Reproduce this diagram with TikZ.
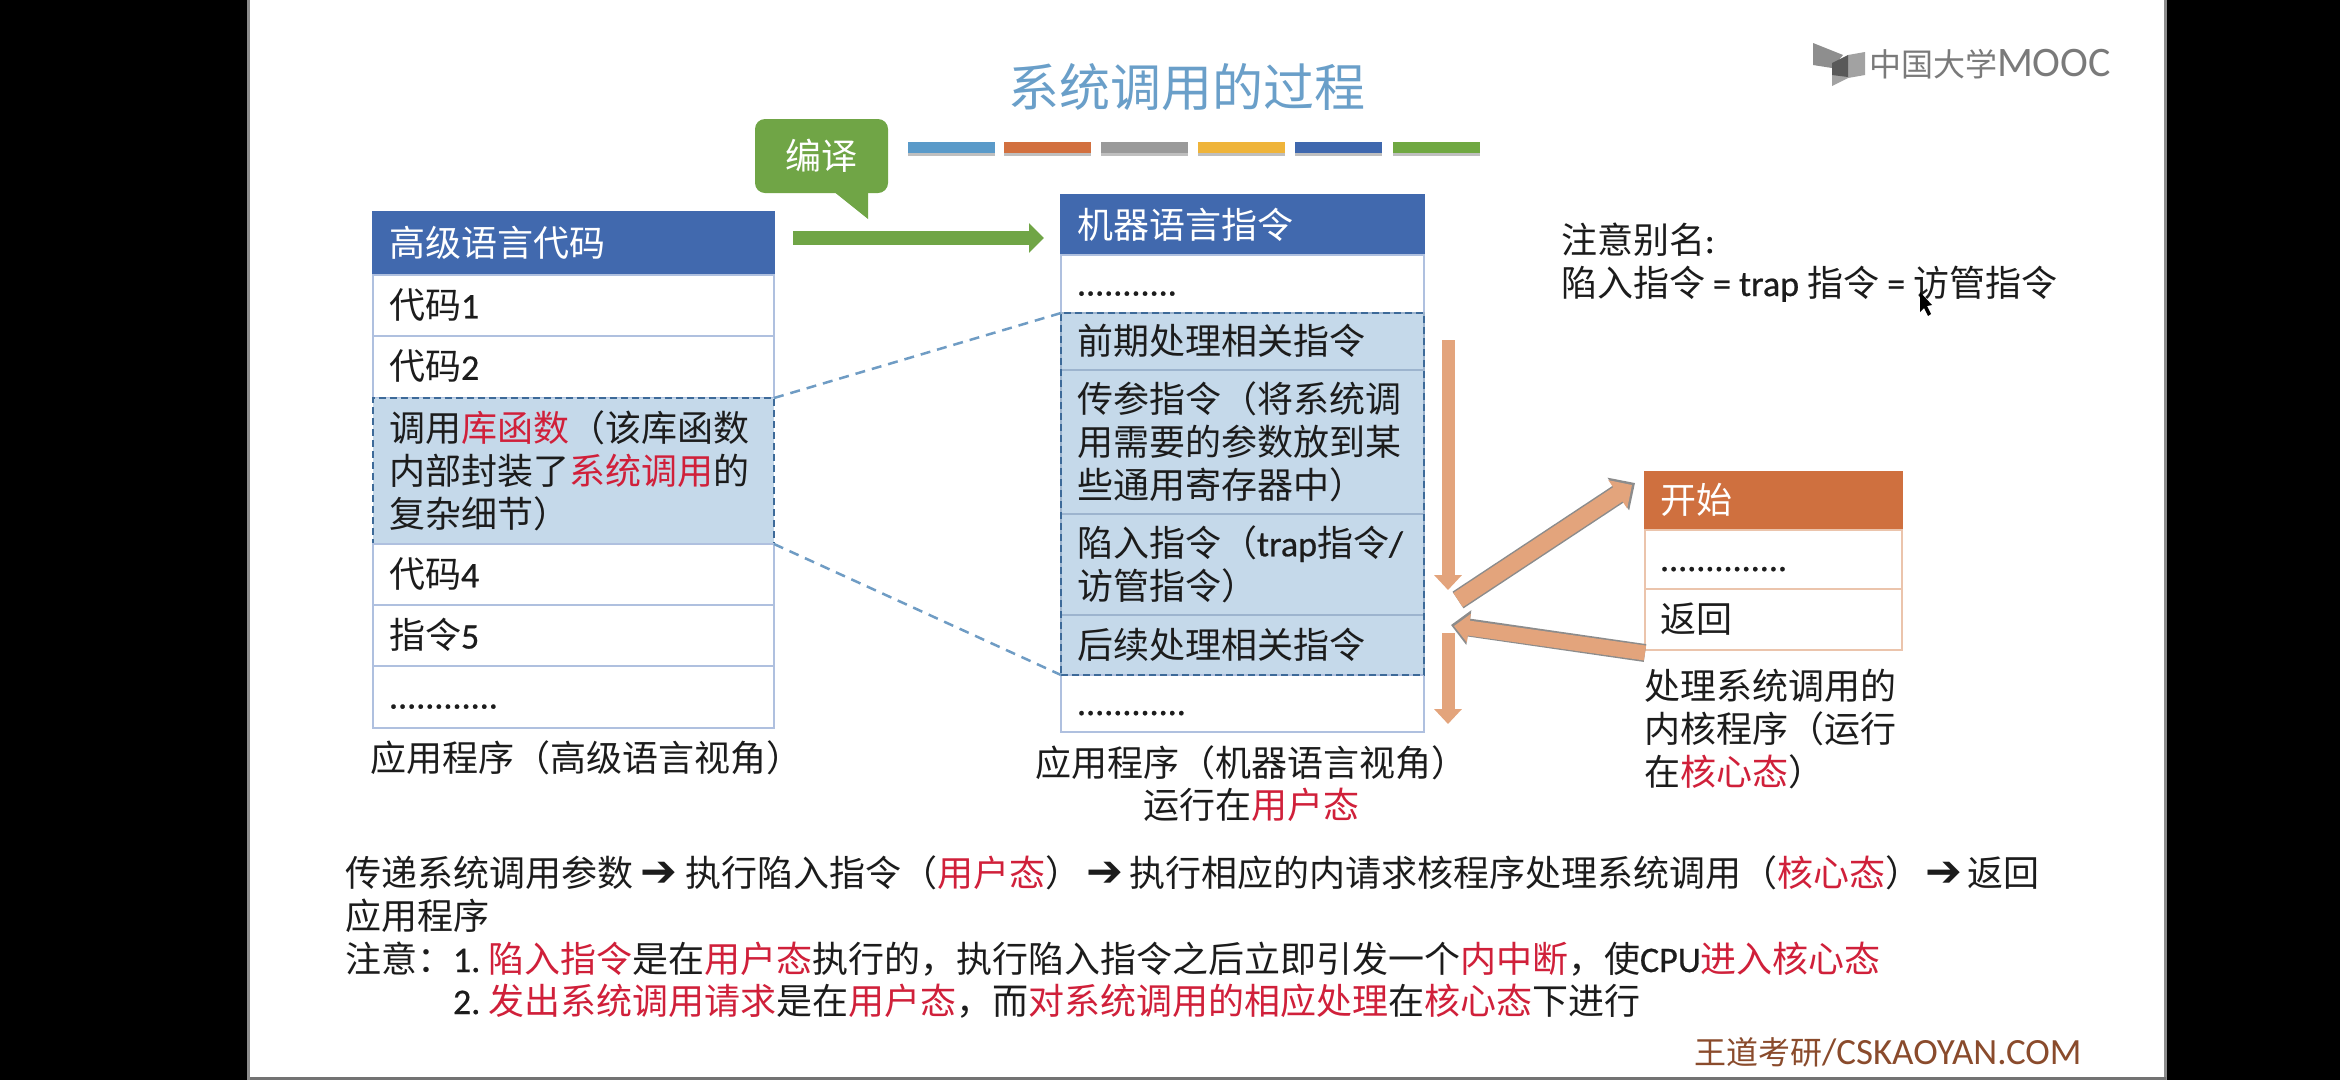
\documentclass[tikz,border=0pt]{standalone}
\usepackage{fontspec}
\usetikzlibrary{arrows.meta,fit,calc}
\setmainfont{Noto Sans CJK SC}
\newfontfamily\lat[FakeBold=0.6]{Carlito}
\newfontfamily\latl{Carlito}
\newfontfamily\djv{DejaVu Sans}
\definecolor{ink}{HTML}{1C1C1C}
\definecolor{redtxt}{HTML}{D0203A}
\definecolor{hdrblue}{HTML}{4169AE}
\definecolor{cellline}{HTML}{AFC0DF}
\definecolor{hlfill}{HTML}{C5D9EA}
\definecolor{hlline}{HTML}{3D6A99}
\definecolor{hlsep}{HTML}{9DB4CE}
\definecolor{dashln}{HTML}{6F9CC4}
\definecolor{titleblue}{HTML}{6A9FC9}
\definecolor{hdrorange}{HTML}{CF703F}
\definecolor{orline}{HTML}{EBC4AC}
\definecolor{arrowc}{HTML}{E3A47C}
\definecolor{arrowedge}{HTML}{8C8C8C}
\definecolor{green1}{HTML}{70A546}
\definecolor{wmark}{HTML}{8A4B2C}
\definecolor{logogray}{HTML}{7A7A7A}
\newcommand{\Rd}[1]{\textcolor{redtxt}{#1}}
\newcommand{\stt}{\rule[-0.12em]{0pt}{0.88em}}
\newcommand{\arw}{{\djv\fontsize{44}{44}\selectfont ➔}}
\tikzset{
  x=1pt,y=-1pt,
  every node/.style={font=\fontsize{36}{43}\selectfont,text=ink,inner sep=0pt,outer sep=0pt},
  cell/.style={draw=cellline,line width=1.5pt,fill=white,anchor=north west,align=left,inner xsep=16pt,inner ysep=0pt},
  leftcell/.style={cell,text width=369pt},
  midcell/.style={cell,text width=331pt},
  rightcell/.style={cell,text width=227pt,inner xsep=15pt,draw=orline},
  hdrleft/.style={leftcell,fill=hdrblue,draw=hdrblue,text=white},
  hdrmid/.style={midcell,fill=hdrblue,draw=hdrblue,text=white},
  hlcell/.style={midcell,fill=hlfill,draw=hlsep},
  hlbox/.style={draw=hlline,line width=2.5pt,dash pattern=on 7pt off 4pt},
  captxt/.style={anchor=base west,align=left},
  guide/.style={draw=dashln,line width=2.5pt,dash pattern=on 10pt off 7pt},
  flow/.style={draw=arrowc,line width=13pt,-{Triangle[length=15pt,width=27pt,fill=arrowc,color=arrowc]}},
  flowedge/.style={draw=arrowedge,line width=20pt,-{Triangle[length=20pt,width=38pt,fill=arrowedge,color=arrowedge]}},
  colorbar/.style={minimum width=87pt,minimum height=11pt,anchor=north west},
  barshade/.style={fill=black!25,minimum width=87pt,minimum height=11pt,anchor=north west},
}
\begin{document}
\begin{tikzpicture}
\useasboundingbox (0,0) rectangle (2340,1080);
\fill[black] (0,0) rectangle (2340,1080);
\fill[white] (250,0) rectangle (2166,1077);
\fill[black!45] (247,0) rectangle (250,1080);
\fill[black!45] (2164,0) rectangle (2167,1080);
\fill[black!55] (250,1077) rectangle (2166,1080);

% title and colour bars
\node[font=\fontsize{51}{60}\selectfont,text=titleblue] (title) at (1187,87) {系统调用的过程};
\foreach \xx/\cc/\nn in {908/5A9AC9/a,1004/D2703F/b,1101/9A9A9A/c,1198/EFB43A/d,1295/3F68AE/e,1393/70A842/f}{
  \definecolor{barc}{HTML}{\cc}
  \node[barshade] (shade\nn) at (\xx,145) {};
  \node[colorbar,fill=barc] (bar\nn) at (\xx,142) {};
}

% logo
\fill[logogray!85] (1813,43)--(1843,55)--(1832,68)--(1813,65)--cycle;
\fill[logogray!70] (1848,55)--(1865,52)--(1865,75)--(1848,78)--(1832,86)--(1832,75)--cycle;
\fill[black!65] (1832,63)--(1848,55)--(1848,77)--(1832,75)--cycle;
\node[captxt,text=logogray,font=\fontsize{32}{36}\selectfont] (logo) at (1869,76) {中国大学{\latl\fontsize{42}{42}\selectfont MOOC}};

% left table
\node[hdrleft,minimum height=63pt] (l0) at (373,212) {\stt 高级语言代码};
\node[leftcell,minimum height=61pt] (l1) at (l0.south west) {\stt 代码{\lat 1}};
\node[leftcell,minimum height=62pt] (l2) at (l1.south west) {\stt 代码{\lat 2}};
\node[leftcell,fill=hlfill,hlbox,minimum height=146pt] (lhl) at (l2.south west) {\stt 调用\Rd{库函数}（该库函数\\\stt 内部封装了\Rd{系统调用}的\\\stt 复杂细节）};
\node[leftcell,minimum height=61pt] (l4) at (lhl.south west) {\stt 代码{\lat 4}};
\node[leftcell,minimum height=61pt] (l5) at (l4.south west) {\stt 指令{\lat 5}};
\node[leftcell,minimum height=62pt] (l6) at (l5.south west) {\stt {\lat ............}};
\node[captxt] (lcap) at (370,771) {应用程序（高级语言视角）};

% middle table
\node[hdrmid,minimum height=60pt] (m0) at (1061,195) {\stt 机器语言指令};
\node[midcell,minimum height=58pt] (m1) at (m0.south west) {\stt {\lat ...........}};
\node[hlcell,minimum height=57pt] (m2) at (m1.south west) {\stt 前期处理相关指令};
\node[hlcell,minimum height=144pt] (m3) at (m2.south west) {\stt 传参指令（将系统调\\\stt 用需要的参数放到某\\\stt 些通用寄存器中）};
\node[hlcell,minimum height=101pt] (m4) at (m3.south west) {\stt 陷入指令（{\lat trap}指令{\lat /}\\\stt 访管指令）};
\node[hlcell,minimum height=60pt] (m5) at (m4.south west) {\stt 后续处理相关指令};
\node[midcell,minimum height=57pt] (m6) at (m5.south west) {\stt {\lat ............}};
\node[hlbox,fit=(m2)(m5),inner sep=0pt] (mhl) {};
\node[captxt] (mcap1) at (1035,776) {应用程序（机器语言视角）};
\node[captxt] (mcap2) at (1143,818) {运行在\Rd{用户态}};

% right table
\node[rightcell,fill=hdrorange,draw=hdrorange,text=white,minimum height=58pt] (r0) at (1645,472) {\stt 开始};
\node[rightcell,minimum height=59pt] (r1) at (r0.south west) {\stt {\lat ..............}};
\node[rightcell,minimum height=61pt] (r2) at (r1.south west) {\stt 返回};
\node[captxt] (rcap) at (1644,785) {处理系统调用的\\内核程序（运行\\在\Rd{核心态}）};

% dashed guides
\draw[guide] (lhl.north east) -- (mhl.north west);
\draw[guide] (lhl.south east) -- (mhl.south west);

% compile arrow and callout
\coordinate (gs) at (793,238);
\coordinate (ge) at (1044,238);
\draw[draw=green1,line width=14pt,-{Triangle[length=15pt,width=29pt,fill=green1,color=green1]}] (gs) -- (ge);
\node[fill=green1,rounded corners=10pt,minimum width=133pt,minimum height=74pt,text=white,anchor=north west] (call) at (755,119) {编译};
\fill[green1] ($(call.south west)+(78,-2)$) -- ($(call.south west)+(113,-2)$) -- ($(call.south west)+(113,26)$) -- cycle;

% process arrows
\coordinate (a1s) at (1448,340);
\coordinate (a1e) at (1448,590);
\coordinate (a2s) at (1448,633);
\coordinate (a2e) at (1448,724);
\coordinate (a3s) at (1458,600);
\coordinate (a3e) at (1635,483);
\coordinate (a4e) at (1451,625);
\draw[flow] (a1s) -- (a1e);
\draw[flow] (a2s) -- (a2e);
\draw[flowedge] (a3s) -- (a3e);
\draw[draw=arrowc,line width=17pt,-{Triangle[length=17pt,width=33pt,fill=arrowc,color=arrowc]}] (a3s) -- ($(a3e)+(-3,2)$);
\coordinate (a4s) at (r2.south west);
\draw[draw=arrowedge,line width=18pt,-{Triangle[length=18pt,width=34pt,fill=arrowedge,color=arrowedge]}] ($(a4s)+(0,3)$) -- (a4e);
\draw[draw=arrowc,line width=15pt,-{Triangle[length=15pt,width=28pt,fill=arrowc,color=arrowc]}] ($(a4s)+(0,3)$) -- ($(a4e)+(3,1)$);

% alias note
\node[captxt] (note) at (1561,296) {注意别名{\lat :}\\陷入指令 {\lat =} {\lat trap} 指令 {\lat =} 访管指令};
\fill[black] (1920,292)--(1920,312)--(1924,308)--(1928,316)--(1931,314)--(1927,306)--(1932,305)--cycle;

% bottom text
\node[captxt] (b1) at (345,886) {传递系统调用参数\makebox[52pt][c]{\arw}执行陷入指令（\Rd{用户态}）\makebox[48pt][c]{\arw}执行相应的内请求核程序处理系统调用（\Rd{核心态}）\makebox[46pt][c]{\arw}返回};
\node[captxt] (b2) at (345,929) {应用程序};
\node[captxt] (b3) at (345,972) {注意：\makebox[35pt][l]{\lat 1.}\Rd{陷入指令}是在\Rd{用户态}执行的，执行陷入指令之后立即引发一个\Rd{内中断}，使{\lat CPU}\Rd{进入核心态}};
\node[captxt] (b4) at (453,1014) {\makebox[35pt][l]{\lat 2.}\Rd{发出系统调用请求}是在\Rd{用户态}，而\Rd{对系统调用的相应处理}在\Rd{核心态}下进行};
\node[captxt,text=wmark,font=\fontsize{32}{36}\selectfont] (wm) at (1694,1064) {王道考研{\latl\fontsize{37}{37}\selectfont /CSKAOYAN.COM}};
\end{tikzpicture}
\end{document}
